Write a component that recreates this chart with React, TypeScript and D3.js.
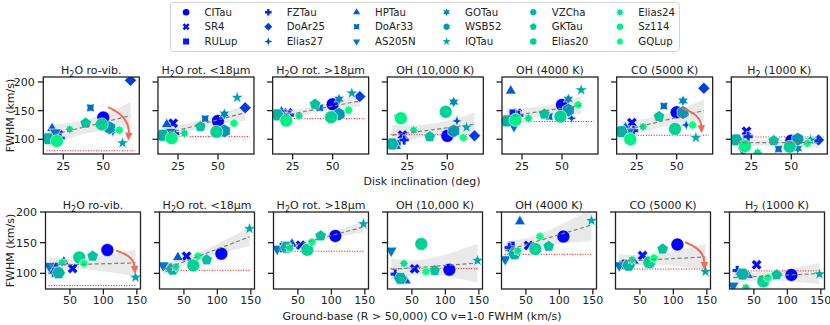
import React from "react";
import * as d3 from "d3";

// ---------------- data ----------------
const starNames = ["CITau","SR4","RULup","FZTau","DoAr25","Elias27","HPTau","DoAr33","AS205N","GOTau","WSB52","IQTau","VZCha","GKTau","Elias20","Elias24","Sz114","GQLup"];
const inclination = [50, 22, 19, 23, 67, 56, 18, 42, 20, 54, 54, 62, 15.5, 39, 49, 29, 21, 60];
const coFwhm = [106, 54, 29, 25, null, null, 41, null, 19, null, null, 148, 33, 84, 64, 38, null, 71];

const fwhmH2ORoVib   = [138, 108, 113, 102, 203, 113, 119, 155, 112, null, 120, 93.5, 101, 128, 126, 117.5, 97, 116];
const fwhmH2ORotShort = [132, 128, 112, 110, 155, null, 126, 136, 113, 144, 114.5, 172.8, 107, 122, 113, 110.5, 102, 128];
const fwhmH2ORotLong = [161, 146, 147, 142, 174.5, null, 148, 155, 140, 170, 143.7, 180.5, 142.5, 161, 138.5, 140.8, 132.6, 151];
const fwhmOH10000    = [106, 107.5, 94, 98.8, 106, 132, 88, null, 137, 165, 114.5, 121, 91.8, 104.5, 148, 116, 136.8, 102.8];
const fwhmOH4000     = [160, 145.5, 147, 142, null, 136.7, 184.5, 139.6, 123, 170, 151, 186, 132, 144, 139.6, 136.7, 134, 160];
const fwhmCO5000     = [147, 129, 118, 115, 189, 125, 120, 158, 113, 167, 146.6, 102.8, 113.3, 139.6, 118, 122, 100, 125];
const fwhmH21000     = [97.5, 114, 97, 104.6, 98.8, 99, 97, 83, 80, 84, 100, 98.8, 98.8, 97.5, 87, 76.6, 88, 93];

const panelValues = [fwhmH2ORoVib, fwhmH2ORotShort, fwhmH2ORotLong, fwhmOH10000, fwhmOH4000, fwhmCO5000, fwhmH21000];
const panelTitles = ["H_2O ro-vib.", "H_2O rot. <18µm", "H_2O rot. >18µm", "OH (10,000 K)", "OH (4000 K)", "CO (5000 K)", "H_2 (1000 K)"];
const refLevels = [80, 105, 136, 108, 131, 107, 104];

const yTicks = [100, 150, 200];
const inclTicks = [25, 50];
const coTicks = [50, 100, 150];

// arrows: [panel, x1, y1, x2, y2] in data units
const arrowsTop = [[0, 53, 156, 65.6, 97.5], [5, 53.2, 154, 65.7, 110.5]];
const arrowsBottom = [[0, 119, 137, 147.5, 99], [5, 117.5, 150.7, 146.5, 105.4]];

const markerShapes = ["o","X","s","P","D","star4","^","notch","v","star6","h","*","H","p","o","star8","o","star10"];
const markerSizes = [6.5, 5, 3.5, 5, 5, 4.5, 5, 4.5, 5.5, 5, 6.5, 5, 6.5, 5.5, 6.5, 4.5, 6.5, 4.5];

// ---------------- helpers ----------------
const winter = (t: number) => d3.rgb(0, 255 * t, 255 * (1 - 0.5 * t)).formatHex();
const starColors = starNames.map((_, i) => winter(i / (starNames.length - 1)));

function polyPts(n: number, r: number, rot: number) {
  const pts: number[][] = [];
  for (let i = 0; i < n; i++) {
    const a = ((rot + (360 * i) / n) * Math.PI) / 180;
    pts.push([r * Math.sin(a), -r * Math.cos(a)]);
  }
  return pts;
}
function starPts(n: number, ro: number, ri: number, rot: number) {
  const pts: number[][] = [];
  for (let i = 0; i < 2 * n; i++) {
    const a = ((rot + (180 * i) / n) * Math.PI) / 180;
    const r = i % 2 === 0 ? ro : ri;
    pts.push([r * Math.sin(a), -r * Math.cos(a)]);
  }
  return pts;
}
function crossPts(r: number, w: number, rot: number) {
  const base = [[w, r], [w, w], [r, w], [r, -w], [w, -w], [w, -r], [-w, -r], [-w, -w], [-r, -w], [-r, w], [-w, w], [-w, r]];
  const a = (rot * Math.PI) / 180;
  return base.map(([x, y]) => [x * Math.cos(a) - y * Math.sin(a), x * Math.sin(a) + y * Math.cos(a)]);
}
const toPath = (pts: number[][]) => "M" + pts.map((p) => p[0].toFixed(2) + "," + p[1].toFixed(2)).join("L") + "Z";

function markerPath(shape: string, r: number) {
  switch (shape) {
    case "o": return `M${-r},0A${r},${r} 0 1,0 ${r},0A${r},${r} 0 1,0 ${-r},0Z`;
    case "X": return toPath(crossPts(r * 1.1, r * 0.38, 45));
    case "s": return toPath(polyPts(4, r * 1.3, 45));
    case "P": return toPath(crossPts(r, r * 0.36, 0));
    case "D": return toPath(polyPts(4, r * 1.2, 0));
    case "star4": return toPath(starPts(4, r * 1.25, r * 0.45, 0));
    case "^": return toPath(polyPts(3, r * 1.25, 0));
    case "notch": return toPath(starPts(4, r * 1.25, r * 0.7, 45));
    case "v": return toPath(polyPts(3, r * 1.25, 180));
    case "star6": return toPath(starPts(6, r * 1.2, r * 0.62, 0));
    case "h": return toPath(polyPts(6, r * 1.05, 0));
    case "*": return toPath(starPts(5, r * 1.3, r * 0.52, 0));
    case "H": return toPath(polyPts(6, r * 1.05, 30));
    case "p": return toPath(polyPts(5, r * 1.1, 0));
    case "star8": return toPath(starPts(8, r * 1.15, r * 0.7, 0));
    case "star10": return toPath(starPts(10, r * 1.1, r * 0.78, 0));
    default: return `M${-r},0A${r},${r} 0 1,0 ${r},0A${r},${r} 0 1,0 ${-r},0Z`;
  }
}

function regression(pts: number[][]) {
  const n = pts.length;
  const mx = d3.mean(pts, (p) => p[0])!;
  const my = d3.mean(pts, (p) => p[1])!;
  let sxx = 0, sxy = 0;
  pts.forEach(([x, y]) => { sxx += (x - mx) ** 2; sxy += (x - mx) * (y - my); });
  const b = sxy / sxx;
  const a = my - b * mx;
  let ss = 0;
  pts.forEach(([x, y]) => { ss += (y - a - b * x) ** 2; });
  const s = Math.sqrt(ss / Math.max(1, n - 2));
  const t = 1.96 + 2.4 / Math.max(1, n - 2);
  const [x0, x1] = d3.extent(pts, (p) => p[0]) as [number, number];
  const band = d3.range(0, 41).map((i) => {
    const x = x0 + ((x1 - x0) * i) / 40;
    const yh = a + b * x;
    const se = s * Math.sqrt(1 / n + (x - mx) ** 2 / sxx);
    return [x, yh - t * se, yh + t * se];
  });
  return { a, b, x0, x1, band };
}

function Title({ s, x, y }: { s: string; x: number; y: number }) {
  const i = s.indexOf("_");
  return (
    <text x={x} y={y} textAnchor="middle" fontSize={11}>
      {i < 0 ? s : [
        <tspan key="a">{s.slice(0, i)}</tspan>,
        <tspan key="b" dy={2.5} fontSize={8}>{s[i + 1]}</tspan>,
        <tspan key="c" dy={-2.5}>{s.slice(i + 2)}</tspan>,
      ]}
    </text>
  );
}

const FONT = "DejaVu Sans, sans-serif";
const INK = "#222";

type RowConf = {
  key: string; x0: number; pitch: number; w: number; y0: number; h: number;
  xDomain: [number, number]; yDomain: [number, number]; xs: (number | null)[];
  ticks: number[]; titleY: number; xlabel: string; xlabelY: number; tickLabelY: number;
  span: [number, number]; arrows: number[][];
};

const rows: RowConf[] = [
  { key: "top", x0: 43.3, pitch: 114.67, w: 96, y0: 77, h: 77, xDomain: [12.5, 72.5], yDomain: [74.3, 208.7],
    xs: inclination, ticks: inclTicks, titleY: 74, xlabel: "Disk inclination (deg)", xlabelY: 184.5, tickLabelY: 169.5,
    span: [14.5, 70], arrows: arrowsTop },
  { key: "bottom", x0: 45.5, pitch: 114, w: 95, y0: 212, h: 77, xDomain: [13.5, 155.5], yDomain: [74.5, 200],
    xs: coFwhm, ticks: coTicks, titleY: 209, xlabel: "Ground-base (R > 50,000) CO v=1-0 FWHM (km/s)", xlabelY: 320, tickLabelY: 304,
    span: [18, 150], arrows: arrowsBottom },
];

function Arrow({ p1, p2 }: { p1: number[]; p2: number[] }) {
  const [x1, y1] = p1, [x2, y2] = p2;
  const dx = x2 - x1, dy = y2 - y1;
  const cx = (x1 + x2) / 2 - 0.35 * dy * -1, cy = (y1 + y2) / 2 - 0.35 * dx;
  // tangent at end
  const tx = x2 - cx, ty = y2 - cy;
  const L = Math.hypot(tx, ty);
  const ux = tx / L, uy = ty / L;
  const hl = 8, hw = 3.8;
  const bx = x2 - ux * hl, by = y2 - uy * hl;
  const head = [[x2, y2], [bx - uy * hw, by + ux * hw], [bx + uy * hw, by - ux * hw]];
  const color = "#f26b52";
  return (
    <g>
      <path d={`M${x1},${y1}Q${cx},${cy} ${bx + ux * 1},${by + uy * 1}`} fill="none" stroke={color} strokeWidth={2} />
      <path d={toPath(head)} fill={color} />
    </g>
  );
}

function Row({ conf }: { conf: RowConf }) {
  return (
    <g>
      {panelValues.map((vals, k) => {
        const left = conf.x0 + conf.pitch * k;
        const x = d3.scaleLinear().domain(conf.xDomain).range([left, left + conf.w]);
        const y = d3.scaleLinear().domain(conf.yDomain).range([conf.y0 + conf.h, conf.y0]);
        const pts: { i: number; x: number; y: number }[] = [];
        vals.forEach((v, i) => {
          const xv = conf.xs[i];
          if (v != null && xv != null) pts.push({ i, x: xv, y: v });
        });
        const reg = regression(pts.map((p) => [p.x, p.y]));
        const area = d3.area<number[]>().x((d) => x(d[0])).y0((d) => y(d[1])).y1((d) => y(d[2]));
        const clipId = `clip-${conf.key}-${k}`;
        return (
          <g key={k}>
            <defs>
              <clipPath id={clipId}><rect x={left} y={conf.y0} width={conf.w} height={conf.h} /></clipPath>
            </defs>
            <rect x={left} y={conf.y0} width={conf.w} height={conf.h} fill="white" />
            <g clipPath={`url(#${clipId})`}>
              <path d={area(reg.band) || ""} fill="#e9e9e9" />
              <line x1={x(conf.span[0])} x2={x(conf.span[1])} y1={y(refLevels[k])} y2={y(refLevels[k])}
                stroke="#ff0000" strokeWidth={1} strokeDasharray="1,1.6" />
              {pts.map((p) => (
                <path key={p.i} d={markerPath(markerShapes[p.i], markerSizes[p.i])}
                  transform={`translate(${x(p.x)},${y(p.y)})`} fill={starColors[p.i]} stroke="white" strokeWidth={0.6} />
              ))}
              <line x1={x(reg.x0)} x2={x(reg.x1)} y1={y(reg.a + reg.b * reg.x0)} y2={y(reg.a + reg.b * reg.x1)}
                stroke="#7f7f7f" strokeWidth={1.2} strokeDasharray="4,2.5" />
              {conf.arrows.filter((a) => a[0] === k).map((a, j) => (
                <Arrow key={j} p1={[x(a[1]), y(a[2])]} p2={[x(a[3]), y(a[4])]} />
              ))}
            </g>
            <rect x={left} y={conf.y0} width={conf.w} height={conf.h} fill="none" stroke={INK} strokeWidth={1.3} />
            {yTicks.map((t) => (
              <g key={t}>
                <line x1={left - 5.5} x2={left} y1={y(t)} y2={y(t)} stroke={INK} strokeWidth={1.3} />
                {k === 0 && (
                  <text x={left - 8.5} y={y(t)} dy="0.36em" textAnchor="end" fontSize={11}>{t}</text>
                )}
              </g>
            ))}
            {conf.ticks.map((t) => (
              <g key={t}>
                <line x1={x(t)} x2={x(t)} y1={conf.y0 + conf.h} y2={conf.y0 + conf.h + 5.5} stroke={INK} strokeWidth={1.3} />
                <text x={x(t)} y={conf.tickLabelY} textAnchor="middle" fontSize={11}>{t}</text>
              </g>
            ))}
            <Title s={panelTitles[k]} x={left + conf.w / 2} y={conf.titleY} />
          </g>
        );
      })}
      <text x={422} y={conf.xlabelY} textAnchor="middle" fontSize={11}>{conf.xlabel}</text>
      <text transform={`translate(14,${conf.y0 + conf.h / 2}) rotate(-90)`} textAnchor="middle" fontSize={11}>FWHM (km/s)</text>
    </g>
  );
}

const legendColX = [204.5, 286.7, 375, 465, 551.7, 638.3];
const legendRowY = [12.3, 26.7, 41.5];

function Legend() {
  return (
    <g>
      <rect x={170.5} y={2.5} width={509} height={49} rx={3} fill="white" stroke="#d5d5d5" strokeWidth={1} />
      {starNames.map((name, i) => {
        const c = Math.floor(i / 3), r = i % 3;
        const tx = legendColX[c], ty = legendRowY[r];
        return (
          <g key={name}>
            <path d={markerPath(markerShapes[i], 3.3)} transform={`translate(${tx - 18.4},${ty})`} fill={starColors[i]} />
            <text x={tx} y={ty} dy="0.36em" fontSize={10.2}>{name}</text>
          </g>
        );
      })}
    </g>
  );
}

export default function App() {
  return (
    <svg width={830} height={325} viewBox="0 0 830 325" style={{ position: "absolute", left: 0, top: 0, background: "white" }}
      fontFamily={FONT} fill={INK}>
      <rect width={830} height={325} fill="white" />
      {rows.map((r) => <Row key={r.key} conf={r} />)}
      <Legend />
    </svg>
  );
}
